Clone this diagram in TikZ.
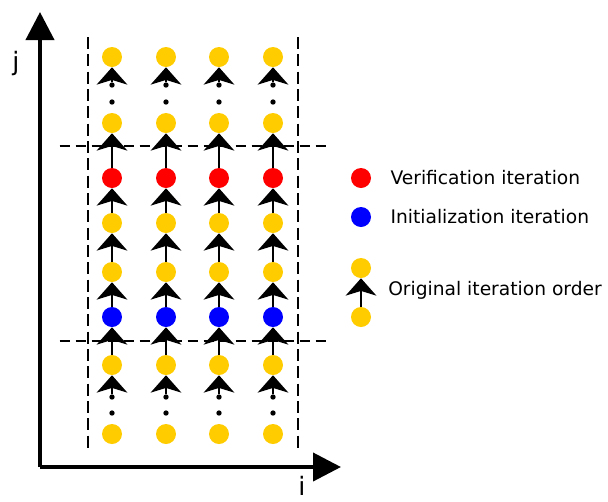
\documentclass[tikz,border=0pt]{standalone}
\usepackage{fontspec}
\setmainfont{DejaVu Sans}
\usetikzlibrary{arrows.meta,positioning}
\definecolor{gold}{RGB}{255,204,0}

\begin{document}
\begin{tikzpicture}[%
    x=0.75pt, y=-0.75pt,        % one unit is one pixel of the sketch
    font=\fontsize{14pt}{16pt}\selectfont
    ]

\tikzset{
    pt/.style={circle, inner sep=0pt, minimum size=15},
    yel/.style={pt, fill=gold},
    ver/.style={pt, fill=red},
    ini/.style={pt, fill=blue},
    dotc/.style={circle, inner sep=0pt, minimum size=4, fill=black},
    % Arrows
    flow/.style={-{Stealth[length=13pt, width=23pt, inset=3.5pt]}, line width=1.4pt},
    axis/.style={-{Triangle[length=21pt, width=21pt]}, line width=3pt},
    bound/.style={line width=1.3pt, dash pattern=on 9pt off 4pt},
    sep/.style={line width=1.3pt, dash pattern=on 8pt off 4pt, dash phase=10pt},
    lab/.style={anchor=west, inner sep=0pt},
    axlab/.style={inner sep=0pt, font=\fontsize{19pt}{21pt}\selectfont}
}

\useasboundingbox (0,0) rectangle (608,501);

%% Axes
\coordinate (orig) at (40,467);
\coordinate (jend) at (40,12);
\coordinate (iend) at (341,467);
\draw [axis] (orig) -- (jend);
\draw [axis] (orig) -- (iend);
\node [axlab, anchor=base] (jlab) at (16,70) {j};
\node [axlab, anchor=base] (ilab) at (302,495) {i};

%% Boundaries
\draw [bound] (88,37) coordinate (bl1) -- (88,450) coordinate (bl2);
\draw [bound] (298,37) coordinate (br1) -- (298,450) coordinate (br2);
\draw [sep] (57,146) coordinate (su1) -- (330,146) coordinate (su2);
\draw [sep] (57,341) coordinate (sd1) -- (330,341) coordinate (sd2);

%% Iteration columns
\foreach \c/\x in {1/112,2/166,3/219,4/273}{
    \node [yel]  (ya\c) at (\x,57)  {};
    \node [dotc] (pa\c) at (\x,85)  {};
    \node [dotc] (qa\c) at (\x,102) {};
    \node [yel]  (yb\c) at (\x,123) {};
    \node [ver]  (v\c)  at (\x,178) {};
    \node [yel]  (yc\c) at (\x,223) {};
    \node [yel]  (yd\c) at (\x,272) {};
    \node [ini]  (n\c)  at (\x,317) {};
    \node [yel]  (ye\c) at (\x,365) {};
    \node [dotc] (pb\c) at (\x,397) {};
    \node [dotc] (qb\c) at (\x,413) {};
    \node [yel]  (yf\c) at (\x,434) {};
    \draw [flow] (pa\c) -- (ya\c);
    \draw [flow] (v\c) -- (yb\c);
    \draw [flow] (yc\c) -- (v\c);
    \draw [flow] (yd\c) -- (yc\c);
    \draw [flow] (n\c) -- (yd\c);
    \draw [flow] (ye\c) -- (n\c);
    \draw [flow] (pb\c) -- (ye\c);
}

%% Legend
\node [ver] (lver) at (361,178) {};
\node [lab, right=19 of lver] (tver) {Verification iteration};
\node [ini] (lini) at (361,217) {};
\node [lab, right=19 of lini] (tini) {Initialization iteration};
\node [yel] (lya) at (361,268) {};
\node [yel] (lyb) at (361,317) {};
    \draw [flow] (lyb) -- (lya);
\node [lab] (tord) at (388,290) {Original iteration order};
\end{tikzpicture}
\end{document}
